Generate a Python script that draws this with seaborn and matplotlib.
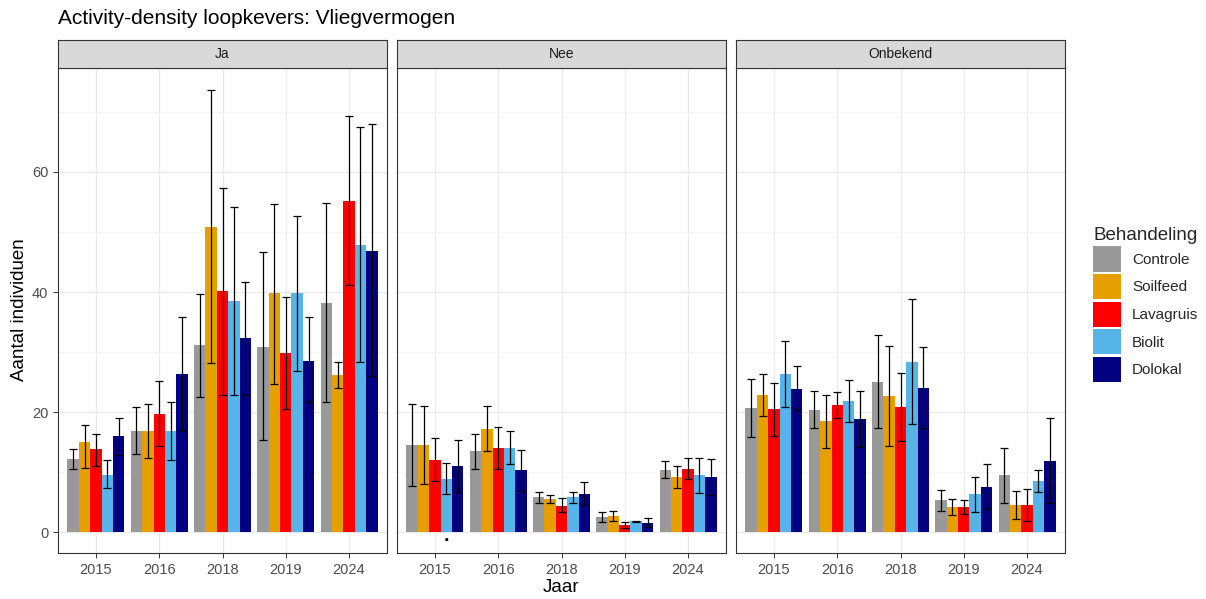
import numpy as np
import pandas as pd
import matplotlib
matplotlib.use("Agg")
import matplotlib.pyplot as plt
from matplotlib.patches import Patch
import seaborn as sns

# ---- data -------------------------------------------------------------
jaren = ["2015", "2016", "2018", "2019", "2024"]
behandelingen = ["Controle", "Soilfeed", "Lavagruis", "Biolit", "Dolokal"]
vliegvermogen = ["Ja", "Nee", "Onbekend"]
kleuren = ["#999999", "#E69F00", "#FF0000", "#56B4E9", "#000080"]

# mean per year (rows: behandeling, columns: jaar)
ja_mean = [[12.2, 16.9, 31.2, 30.9, 38.1],
           [15.1, 16.9, 50.9, 39.8, 26.2],
           [13.8, 19.7, 40.2, 29.9, 55.1],
           [9.6, 16.9, 38.5, 39.8, 47.9],
           [16.1, 26.3, 32.3, 28.6, 46.9]]
ja_lo = [[10.6, 13.0, 22.5, 15.3, 21.7],
         [10.7, 12.4, 28.2, 24.7, 24.0],
         [11.1, 14.3, 22.9, 20.6, 41.1],
         [7.4, 12.1, 22.9, 26.8, 28.4],
         [12.8, 16.8, 22.9, 21.7, 26.0]]
ja_hi = [[13.9, 20.8, 39.6, 46.6, 54.8],
         [17.9, 21.3, 73.7, 54.7, 28.4],
         [16.3, 25.2, 57.4, 39.2, 69.3],
         [12.1, 21.7, 54.1, 52.7, 67.4],
         [19.0, 35.8, 41.7, 35.8, 67.9]]

nee_mean = [[14.5, 13.5, 5.8, 2.6, 10.4],
            [14.5, 17.2, 5.5, 2.7, 9.2],
            [12.1, 14.0, 4.4, 1.2, 10.5],
            [8.9, 14.0, 5.8, 1.8, 9.5],
            [11.1, 10.3, 6.4, 1.6, 9.2]]
nee_lo = [[7.7, 10.6, 4.9, 1.7, 9.0],
          [8.1, 13.6, 4.8, 1.8, 7.4],
          [8.6, 10.6, 3.4, 0.7, 8.8],
          [6.3, 11.3, 4.8, 1.7, 6.6],
          [6.7, 6.8, 4.6, 0.9, 6.2]]
nee_hi = [[21.3, 16.4, 6.7, 3.4, 11.9],
          [21.0, 21.0, 6.2, 3.6, 11.0],
          [15.7, 17.5, 5.7, 1.7, 12.4],
          [11.5, 16.9, 6.7, 1.9, 12.4],
          [15.4, 13.7, 8.3, 2.4, 12.2]]

onb_mean = [[20.7, 20.4, 25.0, 5.3, 9.5],
            [22.8, 18.6, 22.7, 4.2, 4.6],
            [20.5, 21.2, 20.9, 4.2, 4.6],
            [26.3, 21.8, 28.4, 6.3, 8.5],
            [23.8, 18.8, 24.1, 7.5, 11.8]]
onb_lo = [[15.9, 17.3, 17.4, 3.5, 4.9],
          [19.4, 14.1, 14.4, 2.9, 2.2],
          [16.1, 19.0, 15.2, 3.1, 1.9],
          [20.8, 18.4, 18.1, 3.4, 6.7],
          [20.3, 14.2, 17.3, 3.8, 4.8]]
onb_hi = [[25.5, 23.6, 32.8, 7.1, 14.1],
          [26.3, 22.9, 31.0, 5.6, 6.9],
          [24.9, 23.4, 26.6, 5.4, 7.2],
          [31.8, 25.3, 38.9, 9.2, 10.3],
          [27.7, 23.6, 30.8, 11.3, 19.0]]

# significance labels: (panel, year, treatment, label)
signif = [("Nee", "2015", "Biolit", ".")]

panels = {"Ja": (ja_mean, ja_lo, ja_hi),
          "Nee": (nee_mean, nee_lo, nee_hi),
          "Onbekend": (onb_mean, onb_lo, onb_hi)}

rows = []
for pan, (m, lo, hi) in panels.items():
    for i, beh in enumerate(behandelingen):
        for j, jr in enumerate(jaren):
            rows.append(dict(Vliegvermogen=pan, Behandeling=beh, Jaar=jr,
                             Aantal=m[i][j], lo=lo[i][j], hi=hi[i][j]))
df = pd.DataFrame(rows)

# ---- styling ----------------------------------------------------------
sns.set_style("white")
plt.rcParams["font.family"] = ["Liberation Sans", "DejaVu Sans"]

fig = plt.figure(figsize=(12.06, 5.99), dpi=100)
W, H = 1206, 599

panel_left = [58, 397, 736]
panel_w = 329
panel_top, panel_bottom = 68, 553
strip_top = 40

ymax = df["hi"].max()
ylims = (-3.45, ymax + 3.6)

for k, pan in enumerate(vliegvermogen):
    ax = fig.add_axes([panel_left[k] / W, 1 - panel_bottom / H,
                       panel_w / W, (panel_bottom - panel_top) / H])
    sub = df[df["Vliegvermogen"] == pan]
    sns.barplot(data=sub, x="Jaar", y="Aantal", hue="Behandeling",
                order=jaren, hue_order=behandelingen, palette=kleuren,
                errorbar=None, width=0.9, gap=0, saturation=1,
                linewidth=0, ax=ax, legend=False, zorder=2)

    # error bars from the bar centres
    for cont, beh in zip(ax.containers, behandelingen):
        for bar, jr in zip(cont, jaren):
            r = sub[(sub["Behandeling"] == beh) & (sub["Jaar"] == jr)].iloc[0]
            xc = bar.get_x() + bar.get_width() / 2
            ax.errorbar(xc, r["Aantal"],
                        yerr=[[r["Aantal"] - r["lo"]], [r["hi"] - r["Aantal"]]],
                        fmt="none", ecolor="black", elinewidth=0.9,
                        capsize=3, capthick=0.9, zorder=3)
            for (sp, sj, sb, lab) in signif:
                if sp == pan and sj == jr and sb == beh:
                    ax.text(xc, -1.5, lab, ha="center", va="baseline",
                            fontsize=14, fontweight="bold", color="black")

    ax.set_xlim(-0.6, len(jaren) - 0.4)
    ax.set_ylim(*ylims)
    ax.set_yticks([0, 20, 40, 60])
    ax.set_yticks([10, 30, 50, 70], minor=True)
    ax.grid(True, which="major", color="#EBEBEB", lw=1.0, zorder=0)
    ax.grid(True, which="minor", axis="y", color="#F4F4F4", lw=0.6, zorder=0)
    ax.set_axisbelow(True)
    for s in ax.spines.values():
        s.set_edgecolor("#333333")
        s.set_linewidth(0.8)
    ax.tick_params(axis="both", which="major", length=3.5, width=0.7,
                   color="#333333", labelcolor="#4D4D4D", labelsize=10.5,
                   direction="out", bottom=True, left=(k == 0))
    ax.tick_params(axis="y", which="minor", length=0)
    ax.set_xlabel("")
    ax.set_ylabel("")
    if k > 0:
        ax.set_yticklabels([])

    # facet strip
    sax = fig.add_axes([panel_left[k] / W, 1 - panel_top / H,
                        panel_w / W, (panel_top - strip_top) / H])
    sax.set_facecolor("#D9D9D9")
    sax.set_xticks([])
    sax.set_yticks([])
    for s in sax.spines.values():
        s.set_edgecolor("#333333")
        s.set_linewidth(0.8)
    sax.text(0.5, 0.5, pan, ha="center", va="center", fontsize=10,
             color="#1A1A1A", transform=sax.transAxes)

fig.text(58 / W, 1 - 19 / H, "Activity-density loopkevers: Vliegvermogen",
         ha="left", va="center", fontsize=15, color="black")
fig.text(20 / W, 1 - 310 / H, "Aantal individuen", rotation=90,
         ha="center", va="center", fontsize=13.5, color="black")
fig.text(561 / W, 1 - 588 / H, "Jaar", ha="center", va="center",
         fontsize=13.5, color="black")

handles = [Patch(facecolor=c, edgecolor="none", label=b)
           for b, c in zip(behandelingen, kleuren)]
leg = fig.legend(handles=handles, title="Behandeling", loc="upper left",
                 bbox_to_anchor=(1087 / W, 1 - 221 / H), frameon=False,
                 fontsize=11, title_fontsize=13.5, handlelength=1.85,
                 handleheight=2.17, handletextpad=0.7, labelspacing=0.15,
                 borderaxespad=0)
leg._legend_box.align = "left"

fig.savefig("out.png", dpi=100)
